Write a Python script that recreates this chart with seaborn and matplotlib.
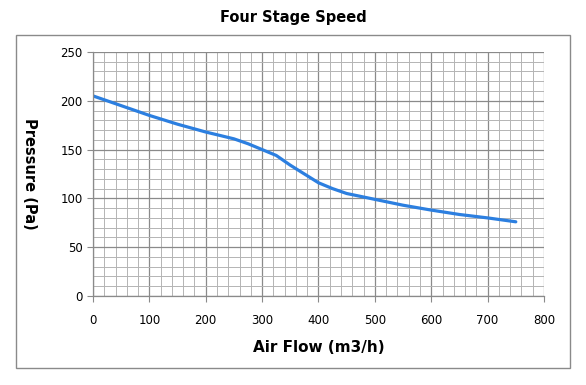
import numpy as np
import pandas as pd
import seaborn as sns
import matplotlib.pyplot as plt
from matplotlib.patches import Rectangle
from matplotlib.ticker import MultipleLocator

# values
air_flow = [0, 50, 100, 150, 200, 250, 275, 300, 325, 350, 375, 400, 425, 450, 475, 500,
            550, 600, 650, 700, 750]
pressure = [205, 195, 185, 176, 168, 161, 156, 150, 144, 134, 125, 116, 110, 105, 102, 99,
            93, 88, 83.5, 80, 76]

df = pd.DataFrame({'flow': air_flow, 'pressure': pressure})

sns.set_style("white")
plt.rcParams['font.family'] = ['DejaVu Sans']
plt.rcParams['text.color'] = 'black'
plt.rcParams['xtick.color'] = 'black'
plt.rcParams['ytick.color'] = 'black'

fig = plt.figure(figsize=(5.86, 3.85), dpi=100)
ax = fig.add_axes([0.1587, 0.2312, 0.9283 - 0.1587, 0.865 - 0.2312])

sns.lineplot(data=df, x='flow', y='pressure', ax=ax, color='#2c7fe0', linewidth=2.3)

ax.set_xlim(0, 800)
ax.set_ylim(0, 250)
ax.xaxis.set_major_locator(MultipleLocator(100))
ax.xaxis.set_minor_locator(MultipleLocator(20))
ax.yaxis.set_major_locator(MultipleLocator(50))
ax.yaxis.set_minor_locator(MultipleLocator(10))
ax.grid(which='major', color='#8a8a8a', linewidth=0.9)
ax.grid(which='minor', color='#b4b4b4', linewidth=0.7)
ax.set_axisbelow(True)

for s in ['top', 'right']:
    ax.spines[s].set_visible(False)
for s in ['left', 'bottom']:
    ax.spines[s].set_color('#8a8a8a')
    ax.spines[s].set_linewidth(0.9)

ax.tick_params(which='major', length=4, color='#8a8a8a', labelcolor='black', labelsize=8.5,
               direction='out', left=True, bottom=True)
ax.tick_params(which='minor', length=0)
ax.tick_params(axis='x', pad=9)

ax.set_xlabel('Air Flow (m3/h)', fontsize=11, fontweight='bold', labelpad=9, color='black')
ax.set_ylabel('')
fig.text(0.05, 0.548, 'Pressure (Pa)', rotation=-90, fontsize=10.5, fontweight='bold',
         ha='center', va='center', color='black')
fig.text(0.5, 0.955, 'Four Stage Speed', fontsize=10.5, fontweight='bold', ha='center',
         va='center', color='black')

fig.patches.append(Rectangle((16 / 586, 1 - 368 / 385), (570 - 16) / 586, (368 - 35) / 385,
                             transform=fig.transFigure, fill=False, edgecolor='#8a8a8a',
                             linewidth=1.0))

fig.savefig('out.png', dpi=100)
